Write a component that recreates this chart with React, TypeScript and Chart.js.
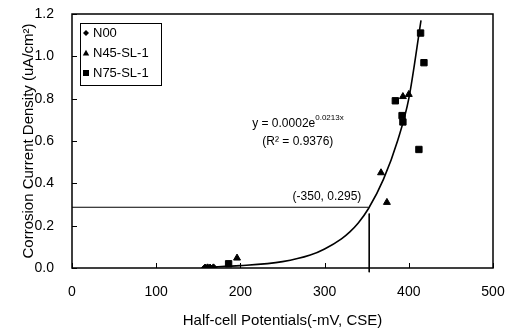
import { useEffect, useRef } from "react";
import { Chart, registerables } from "chart.js";

Chart.register(...registerables);

const xTicks = [0, 100, 200, 300, 400, 500];
const yTicks = [0, 0.2, 0.4, 0.6, 0.8, 1.0, 1.2];
const seriesNames = ["N00", "N45-SL-1", "N75-SL-1"];
const seriesStyles = ["rectRot", "triangle", "rect"];

const n00X = [158, 161, 164, 168];
const n00Y = [0.002, 0.003, 0.002, 0.003];
const n45X = [196, 367, 374, 393, 400];
const n45Y = [0.047, 0.45, 0.31, 0.81, 0.82];
const n75X = [186, 384, 392, 393, 412, 414, 418];
const n75Y = [0.02, 0.79, 0.72, 0.69, 0.56, 1.11, 0.97];

const trendX = [160, 200, 250, 283, 300, 320, 330, 340, 352, 370, 387, 400, 414.5];
const trendY = [0.004, 0.011, 0.03, 0.061, 0.09, 0.138, 0.171, 0.213, 0.28, 0.42, 0.605, 0.8, 1.17];

const guideX = 352;
const guideY = 0.287;

const eqText = "y = 0.0002e";
const eqExp = "0.0213x";
const r2Text = "(R² = 0.9376)";
const pointText = "(-350, 0.295)";

const FONT = "'Liberation Sans', Arial, sans-serif";

const pts = (xs: number[], ys: number[]) => xs.map((x, i) => ({ x, y: ys[i] }));

function drawMarker(ctx: CanvasRenderingContext2D, style: string, x: number, y: number) {
  ctx.beginPath();
  if (style === "rectRot") {
    const r = 3;
    ctx.moveTo(x, y - r);
    ctx.lineTo(x + r, y);
    ctx.lineTo(x, y + r);
    ctx.lineTo(x - r, y);
  } else if (style === "triangle") {
    const r = 3.2;
    ctx.moveTo(x, y - r);
    ctx.lineTo(x + r, y + r * 0.8);
    ctx.lineTo(x - r, y + r * 0.8);
  } else {
    const s = 3;
    ctx.rect(x - s, y - s, 2 * s, 2 * s);
  }
  ctx.closePath();
  ctx.fill();
}

const decorPlugin = {
  id: "decor",
  afterDraw(chart: any) {
    const { ctx, chartArea: a, scales } = chart;
    const xs = scales.x;
    const ys = scales.y;
    ctx.save();
    ctx.strokeStyle = "#000";
    ctx.lineWidth = 1.5;
    ctx.strokeRect(a.left, a.top, a.right - a.left, a.bottom - a.top);
    ctx.lineWidth = 1;
    ctx.beginPath();
    xTicks.forEach((t) => {
      const px = Math.round(xs.getPixelForValue(t)) + 0.5;
      ctx.moveTo(px, a.bottom);
      ctx.lineTo(px, a.bottom - 5);
    });
    yTicks.forEach((t) => {
      const py = Math.round(ys.getPixelForValue(t)) + 0.5;
      ctx.moveTo(a.left, py);
      ctx.lineTo(a.left + 5, py);
    });
    ctx.stroke();

    ctx.fillStyle = "#000";
    ctx.textBaseline = "middle";
    ctx.textAlign = "left";
    ctx.font = `12px ${FONT}`;
    const ex = xs.getPixelForValue(214);
    const ey = ys.getPixelForValue(0.68);
    ctx.fillText(eqText, ex, ey);
    const w = ctx.measureText(eqText).width;
    ctx.font = `8px ${FONT}`;
    ctx.fillText(eqExp, ex + w, ey - 6);
    ctx.font = `12px ${FONT}`;
    ctx.fillText(r2Text, xs.getPixelForValue(226), ys.getPixelForValue(0.595));
    ctx.fillText(pointText, xs.getPixelForValue(262), ys.getPixelForValue(0.335));

    const lx = a.left + 8;
    const ly = a.top + 9;
    ctx.lineWidth = 1;
    ctx.strokeRect(lx + 0.5, ly + 0.5, 81, 62);
    ctx.font = `13px ${FONT}`;
    seriesNames.forEach((name, i) => {
      const cy = ly + 10 + i * 20;
      drawMarker(ctx, seriesStyles[i], lx + 6, cy);
      ctx.fillText(name, lx + 13, cy);
    });
    ctx.restore();
  },
};

export default function App() {
  const ref = useRef<HTMLCanvasElement | null>(null);
  useEffect(() => {
    if (!ref.current) return;
    const chart = new Chart(ref.current, {
      type: "scatter",
      data: {
        datasets: [
          {
            label: seriesNames[0],
            data: pts(n00X, n00Y),
            pointStyle: "rectRot",
            pointRadius: 3.5,
            backgroundColor: "#000",
            borderColor: "#000",
          },
          {
            label: seriesNames[1],
            data: pts(n45X, n45Y),
            pointStyle: "triangle",
            pointRadius: 4,
            backgroundColor: "#000",
            borderColor: "#000",
          },
          {
            label: seriesNames[2],
            data: pts(n75X, n75Y),
            pointStyle: "rect",
            pointRadius: 4.5,
            backgroundColor: "#000",
            borderColor: "#000",
          },
          {
            label: "trend",
            data: pts(trendX, trendY),
            showLine: true,
            pointRadius: 0,
            borderColor: "#000",
            borderWidth: 1.6,
            cubicInterpolationMode: "monotone",
          } as any,
          {
            label: "guideH",
            data: [
              { x: 0, y: guideY },
              { x: guideX, y: guideY },
            ],
            showLine: true,
            pointRadius: 0,
            borderColor: "#000",
            borderWidth: 1,
          },
          {
            label: "guideV",
            data: [
              { x: guideX + 1, y: guideY - 0.03 },
              { x: guideX + 1, y: -0.02 },
            ],
            showLine: true,
            pointRadius: 0,
            borderColor: "#000",
            borderWidth: 1,
            clip: false,
          } as any,
        ],
      },
      options: {
        animation: false,
        responsive: false,
        layout: { padding: { top: 14, right: 27, left: 0, bottom: 0 } },
        plugins: { legend: { display: false }, tooltip: { enabled: false } },
        scales: {
          x: {
            type: "linear",
            min: 0,
            max: 500,
            afterBuildTicks: (s: any) => {
              s.ticks = xTicks.map((v) => ({ value: v }));
            },
            afterFit: (s: any) => {
              s.height = 62;
              s.paddingLeft = 0;
              s.paddingRight = 0;
            },
            grid: { display: false },
            border: { display: false },
            ticks: {
              color: "#000",
              font: { family: FONT, size: 14 },
              padding: 8,
            },
            title: {
              display: true,
              text: "Half-cell Potentials(-mV, CSE)",
              color: "#000",
              font: { family: FONT, size: 15 },
              padding: { top: 0, bottom: 0 },
            },
          },
          y: {
            type: "linear",
            min: 0,
            max: 1.2,
            afterBuildTicks: (s: any) => {
              s.ticks = yTicks.map((v) => ({ value: v }));
            },
            afterFit: (s: any) => {
              s.width = 72;
              s.paddingTop = 0;
              s.paddingBottom = 0;
            },
            grid: { display: false },
            border: { display: false },
            ticks: {
              color: "#000",
              font: { family: FONT, size: 14 },
              padding: 10,
              callback: (v: any) => Number(v).toFixed(1),
            },
            title: {
              display: true,
              text: "Corrosion Current Density (uA/cm²)",
              color: "#000",
              font: { family: FONT, size: 15 },
              padding: { top: 20, bottom: 0 },
            },
          },
        },
      },
      plugins: [decorPlugin],
    });
    return () => chart.destroy();
  }, []);
  return (
    <div style={{ position: "absolute", left: 0, top: 0, width: 520, height: 330, background: "#fff" }}>
      <canvas ref={ref} width={520} height={330} style={{ width: 520, height: 330 }} />
    </div>
  );
}
